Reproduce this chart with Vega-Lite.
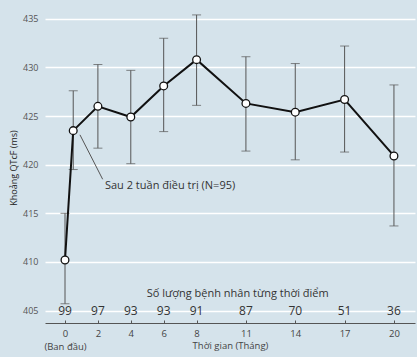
{
  "$schema": "https://vega.github.io/schema/vega-lite/v6.json",
  "width": 370,
  "height": 311,
  "autosize": {"type": "none"},
  "padding": {"left": 45, "top": 12, "right": 2, "bottom": 34},
  "background": "#d5e3eb",
  "config": {
    "view": {"stroke": null},
    "font": "Open Sans",
    "axis": {"titleFontWeight": "normal"}
  },
  "datasets": {
    "pts": [
      {"m": 0, "v": 410.2, "lo": 405.7, "hi": 415.0},
      {"m": 0.5, "v": 423.5, "lo": 419.5, "hi": 427.6},
      {"m": 2, "v": 426.0, "lo": 421.7, "hi": 430.3},
      {"m": 4, "v": 424.9, "lo": 420.1, "hi": 429.7},
      {"m": 6, "v": 428.1, "lo": 423.4, "hi": 433.0},
      {"m": 8, "v": 430.8, "lo": 426.1, "hi": 435.4},
      {"m": 11, "v": 426.3, "lo": 421.4, "hi": 431.1},
      {"m": 14, "v": 425.4, "lo": 420.5, "hi": 430.4},
      {"m": 17, "v": 426.7, "lo": 421.3, "hi": 432.2},
      {"m": 20, "v": 420.9, "lo": 413.7, "hi": 428.2}
    ],
    "counts": [
      {"m": 0, "n": 99, "y": 405},
      {"m": 2, "n": 97, "y": 405},
      {"m": 4, "n": 93, "y": 405},
      {"m": 6, "n": 93, "y": 405},
      {"m": 8, "n": 91, "y": 405},
      {"m": 11, "n": 87, "y": 405},
      {"m": 14, "n": 70, "y": 405},
      {"m": 17, "n": 51, "y": 405},
      {"m": 20, "n": 36, "y": 405}
    ],
    "labels": [
      {"m": 10.5, "y": 406.7, "t": "Số lượng bệnh nhân từng thời điểm"}
    ],
    "note": [
      {"m": 2.43, "y": 417.85, "t": "Sau 2 tuần điều trị (N=95)", "m1": 0.91, "y1": 423.07, "m2": 2.29, "y2": 418.5}
    ]
  },
  "encoding": {
    "x": {
      "field": "m",
      "type": "quantitative",
      "scale": {"domain": [-1.216, 21.28], "nice": false, "zero": false},
      "axis": {
        "values": [0, 2, 4, 6, 8, 11, 14, 17, 20],
        "title": "Thời gian (Tháng)",
        "grid": false,
        "domainColor": "#555555",
        "tickColor": "#555555",
        "tickSize": -3,
        "labelPadding": 8,
        "labelColor": "#444444",
        "labelFontSize": 9.5,
        "labelLineHeight": 13,
        "labelExpr": "datum.value == 0 ? ['0', '(Ban đầu)'] : datum.label",
        "titleFontSize": 9.5,
        "titleColor": "#444444",
        "titleY": 17,
        "titleBaseline": "top"
      }
    },
    "y": {
      "type": "quantitative",
      "scale": {"domain": [403.72, 435.7], "nice": false, "zero": false},
      "axis": {
        "values": [405, 410, 415, 420, 425, 430, 435],
        "title": "Khoảng QTcF (ms)",
        "domain": false,
        "ticks": false,
        "grid": true,
        "gridColor": "#ffffff",
        "gridWidth": 1.6,
        "labelPadding": 7,
        "labelColor": "#555555",
        "labelFontSize": 9,
        "titleFontSize": 9,
        "titleColor": "#222222",
        "titlePadding": 4
      }
    }
  },
  "layer": [
    {
      "data": {"name": "pts"},
      "mark": {"type": "rule", "color": "#555555", "strokeWidth": 1},
      "encoding": {"y": {"field": "lo"}, "y2": {"field": "hi"}}
    },
    {
      "data": {"name": "pts"},
      "mark": {"type": "tick", "orient": "horizontal", "color": "#555555", "size": 9, "thickness": 1},
      "encoding": {"y": {"field": "lo"}}
    },
    {
      "data": {"name": "pts"},
      "mark": {"type": "tick", "orient": "horizontal", "color": "#555555", "size": 9, "thickness": 1},
      "encoding": {"y": {"field": "hi"}}
    },
    {
      "data": {"name": "note"},
      "mark": {"type": "rule", "color": "#555555", "strokeWidth": 1},
      "encoding": {
        "x": {"field": "m1", "type": "quantitative"},
        "y": {"field": "y1"},
        "x2": {"field": "m2"},
        "y2": {"field": "y2"}
      }
    },
    {
      "data": {"name": "pts"},
      "mark": {"type": "line", "color": "#111111", "strokeWidth": 2},
      "encoding": {"y": {"field": "v"}}
    },
    {
      "data": {"name": "pts"},
      "mark": {"type": "point", "filled": true, "fill": "#ffffff", "stroke": "#111111", "strokeWidth": 1.3, "size": 60, "opacity": 1},
      "encoding": {"y": {"field": "v"}}
    },
    {
      "data": {"name": "note"},
      "mark": {"type": "text", "align": "left", "baseline": "middle", "fontSize": 11, "color": "#333333"},
      "encoding": {"y": {"field": "y"}, "text": {"field": "t"}}
    },
    {
      "data": {"name": "counts"},
      "mark": {"type": "text", "align": "center", "baseline": "middle", "fontSize": 12, "color": "#333333"},
      "encoding": {"y": {"field": "y"}, "text": {"field": "n"}}
    },
    {
      "data": {"name": "labels"},
      "mark": {"type": "text", "align": "center", "baseline": "middle", "fontSize": 11, "color": "#333333"},
      "encoding": {"y": {"field": "y"}, "text": {"field": "t"}}
    }
  ]
}
